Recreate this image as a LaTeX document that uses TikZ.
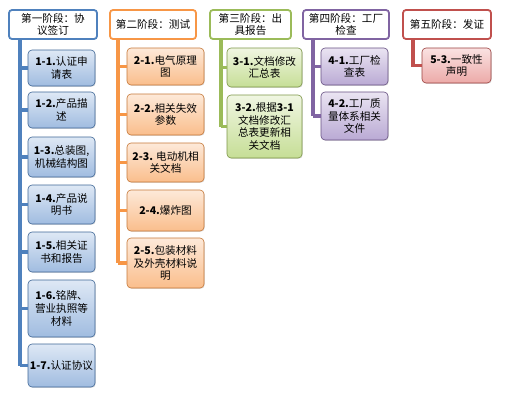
\documentclass[tikz,border=0pt]{standalone}
\usepackage{fontspec}
\setmainfont{Noto Sans CJK SC}
\usepackage{tikz}
\usetikzlibrary{shadows}
\definecolor{bleu}{RGB}{79,129,189}
\definecolor{bleuA}{RGB}{222,232,245}
\definecolor{bleuB}{RGB}{160,188,224}
\definecolor{ocre}{RGB}{247,150,70}
\definecolor{ocreA}{RGB}{253,233,217}
\definecolor{ocreB}{RGB}{250,190,140}
\definecolor{vert}{RGB}{155,187,89}
\definecolor{vertA}{RGB}{240,246,226}
\definecolor{vertB}{RGB}{198,222,150}
\definecolor{violet}{RGB}{128,100,162}
\definecolor{violetA}{RGB}{234,228,242}
\definecolor{violetB}{RGB}{186,170,212}
\definecolor{rouge}{RGB}{192,80,77}
\definecolor{rougeA}{RGB}{250,226,226}
\definecolor{rougeB}{RGB}{236,170,168}

\begin{document}
\begin{tikzpicture}[x=1pt,y=-1pt,
  txt/.style={font=\fontsize{10.6}{12.8}\selectfont,align=center,inner sep=0.5pt},
  etape/.style={txt,draw=#1,line width=1.8pt,fill=white,rounded corners=3pt},
  tache/.style={txt,draw=#1!80!black,line width=0.6pt,top color=#1A,bottom color=#1B,
    rounded corners=4pt,drop shadow={shadow xshift=0.8pt,shadow yshift=-0.8pt,opacity=0.25}},
  tige/.style={line width=3.6pt,#1}]
\useasboundingbox (0,0) rectangle (508,402);
% les cinq etapes
\node[etape=bleu,minimum width=88pt,minimum height=29pt] (h1) at (53,24.5) {第一阶段：协\\议签订};
\node[etape=ocre,minimum width=86pt,minimum height=29pt] (h2) at (153,24.5) {第二阶段：测试};
\node[etape=vert,minimum width=81pt,minimum height=29pt] (h3) at (250.5,24.5) {第三阶段：出\\具报告};
\node[etape=violet,minimum width=86pt,minimum height=29pt] (h4) at (346,24.5) {第四阶段：工厂\\检查};
\node[etape=rouge,minimum width=88pt,minimum height=29pt] (h5) at (447,24.5) {第五阶段：发证};
\coordinate (s1) at (20,39);
\coordinate (s2) at (118,39);
\coordinate (s3) at (221,39);
\coordinate (s4) at (313,39);
\coordinate (s5) at (413,39);
% colonne 1
\foreach \n/\y/\h/\t in {1/68/36/{\textbf{1-1.}认证申\\请表},2/110/36/{\textbf{1-2.}产品描\\述},
  3/157/40/{\textbf{1-3.}总装图,\\机械结构图},4/204.5/39/{\textbf{1-4.}产品说\\明书},
  5/252/40/{\textbf{1-5.}相关证\\书和报告},6/308.5/57/{\textbf{1-6.}铭牌、\\营业执照等\\材料},
  7/365.5/43/{\textbf{1-7.}认证协议}}
{
  \node[tache=bleu,minimum width=67pt,minimum height=\h pt] (a\n) at (61.5,\y) {\t};
  \draw[tige=bleu] (s1 |- a\n.west) -- (a\n.west);
}
\draw[tige=bleu] (s1) -- (s1 |- a7.west);
% colonne 2
\foreach \n/\y/\h/\t in {1/66.5/37/{\textbf{2-1.}电气原理\\图},2/114.5/41/{\textbf{2-2.}相关失效\\参数},
  3/162.5/39/{\textbf{2-3.} 电动机相\\关文档},4/210.5/41/{\textbf{2-4.}爆炸图},
  5/263/50/{\textbf{2-5.}包装材料\\及外壳材料说\\明}}
{
  \node[tache=ocre,minimum width=77pt,minimum height=\h pt] (b\n) at (165.5,\y) {\t};
  \draw[tige=ocre] (s2 |- b\n.west) -- (b\n.west);
}
\draw[tige=ocre] (s2) -- (s2 |- b5.west);
% colonne 3
\foreach \n/\y/\h/\t in {1/67.5/39/{\textbf{3-1.}文档修改\\汇总表},
  2/126.5/63/{\textbf{3-2.}根据\textbf{3-1}\\文档修改汇\\总表更新相\\关文档}}
{
  \node[tache=vert,minimum width=75pt,minimum height=\h pt] (c\n) at (264.5,\y) {\t};
  \draw[tige=vert] (s3 |- c\n.west) -- (c\n.west);
}
\draw[tige=vert] (s3) -- (s3 |- c2.west);
% colonne 4
\foreach \n/\y/\h/\t in {1/66.5/37/{\textbf{4-1.}工厂检\\查表},2/116/48/{\textbf{4-2.}工厂质\\量体系相关\\文件}}
{
  \node[tache=violet,minimum width=67pt,minimum height=\h pt] (d\n) at (354.5,\y) {\t};
  \draw[tige=violet] (s4 |- d\n.west) -- (d\n.west);
}
\draw[tige=violet] (s4) -- (s4 |- d2.west);
% colonne 5
\node[tache=rouge,minimum width=69pt,minimum height=35pt] (e1) at (456.5,65.5) {\textbf{5-3.}一致性\\声明};
\draw[tige=rouge] (s5) |- (e1.west);
\end{tikzpicture}
\end{document}
